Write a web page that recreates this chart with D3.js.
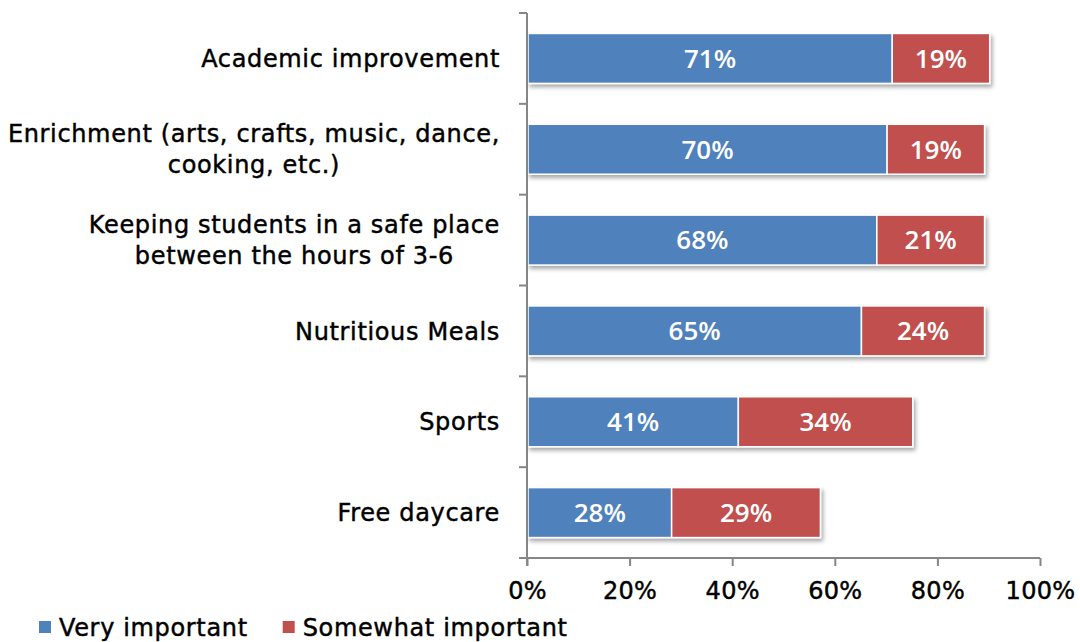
<!DOCTYPE html>
<html>
<head>
<meta charset="utf-8">
<script src="https://cdn.jsdelivr.net/npm/d3@7"></script>
<style>
  html, body { margin: 0; padding: 0; background: #fff; }
  svg { display: block; }
</style>
</head>
<body>
<svg id="chart" width="1080" height="642"></svg>
<script>
// Survey results: importance of after-school program features
const categories = [
  ["Academic improvement"],
  ["Enrichment (arts, crafts, music, dance,", "cooking, etc.)"],
  ["Keeping students in a safe place", "between the hours of 3-6"],
  ["Nutritious Meals"],
  ["Sports"],
  ["Free daycare"]
];
const veryImportant     = [71, 70, 68, 65, 41, 28];
const somewhatImportant = [19, 19, 21, 24, 34, 29];
const seriesNames  = ["Very important", "Somewhat important"];
const seriesColors = ["#4F81BD", "#C0504D"];
const xTicks = [0, 20, 40, 60, 80, 100];

const svg = d3.select("#chart");
const labelFont = "'DejaVu Sans', sans-serif";
const valueFont = "'Open Sans', sans-serif";

// shared style for the dark text (category names, ticks, legend)
function darkText(sel, size) {
  return sel.attr("font-family", labelFont)
    .attr("font-size", size)
    .attr("letter-spacing", 0.65)
    .attr("fill", "#000")
    .attr("stroke", "#000")
    .attr("stroke-width", 0.45);
}

const x = d3.scaleLinear().domain([0, 100]).range([527, 1040]);
const y = d3.scaleBand().domain(d3.range(categories.length)).range([13, 558]).paddingInner(0.45).paddingOuter(0.225);
const yEdges = d3.scaleLinear().domain([0, categories.length]).range([13, 558]);

// drop shadow for the bar segments
const defs = svg.append("defs");
const f = defs.append("filter").attr("id", "shadow")
  .attr("x", "-5%").attr("y", "-20%").attr("width", "115%").attr("height", "160%");
f.append("feDropShadow").attr("dx", 2).attr("dy", 3).attr("stdDeviation", 2)
  .attr("flood-color", "#000").attr("flood-opacity", 0.35);

const rows = categories.map((c, i) => ({
  i, label: c,
  segs: [
    { s: 0, x0: 0, x1: veryImportant[i], v: veryImportant[i] },
    { s: 1, x0: veryImportant[i], x1: veryImportant[i] + somewhatImportant[i], v: somewhatImportant[i] }
  ]
}));

// bars with value labels
const barG = svg.append("g");
rows.forEach(r => {
  const g = barG.append("g").attr("filter", "url(#shadow)");
  g.selectAll("rect").data(r.segs).join("rect")
    .attr("x", d => x(d.x0) + 1)
    .attr("y", y(r.i))
    .attr("width", d => x(d.x1) - x(d.x0))
    .attr("height", y.bandwidth())
    .attr("fill", d => seriesColors[d.s])
    .attr("stroke", "#fff")
    .attr("stroke-width", 1.5);
  barG.selectAll(null).data(r.segs).join("text")
    .attr("x", d => (x(d.x0) + x(d.x1)) / 2 + 1)
    .attr("y", y(r.i) + y.bandwidth() / 2)
    .attr("dy", "0.36em")
    .attr("text-anchor", "middle")
    .attr("fill", "#fff")
    .attr("font-family", valueFont)
    .attr("font-weight", 600)
    .attr("font-size", 26)
    .text(d => d.v + "%");
});

// axes
const axisColor = "#868686";
const yAxis = svg.append("g");
yAxis.append("line").attr("x1", 527).attr("x2", 527).attr("y1", 13).attr("y2", 566)
  .attr("stroke", axisColor).attr("stroke-width", 2);
yAxis.selectAll("line.tick").data(d3.range(categories.length + 1)).join("line")
  .attr("class", "tick")
  .attr("x1", 519).attr("x2", 527)
  .attr("y1", d => yEdges(d)).attr("y2", d => yEdges(d))
  .attr("stroke", axisColor).attr("stroke-width", 2);

const xAxis = svg.append("g").attr("transform", "translate(0,558)")
  .call(d3.axisBottom(x).tickValues(xTicks).tickSize(8).tickPadding(16).tickFormat(d => d + "%"));
xAxis.select(".domain").attr("stroke", axisColor).attr("stroke-width", 2)
  .attr("d", "M519,0H1040");
xAxis.selectAll(".tick line").attr("stroke", axisColor).attr("stroke-width", 2);
darkText(xAxis.selectAll(".tick text"), 24).attr("letter-spacing", 0.3).attr("dy", "0.71em");

// category labels; multi-line labels are centered within a block whose right edge is x=500
const catG = svg.append("g");
rows.forEach(r => {
  const cy = y(r.i) + y.bandwidth() / 2;
  const n = r.label.length;
  const lh = 31;
  const nodes = r.label.map((line, k) =>
    darkText(catG.append("text"), 24)
      .attr("x", 500)
      .attr("y", cy + (k - (n - 1) / 2) * lh)
      .attr("dy", "0.36em")
      .attr("text-anchor", n > 1 ? "middle" : "end")
      .text(line)
      .node());
  if (n > 1) {
    const w = d3.max(nodes, nd => nd.getComputedTextLength());
    nodes.forEach(nd => nd.setAttribute("x", 500 - w / 2));
  }
});

// legend
const legend = svg.append("g").attr("transform", "translate(39,627)");
let lx = 0;
seriesNames.forEach((name, s) => {
  const g = legend.append("g").attr("transform", `translate(${lx},0)`);
  g.append("rect").attr("x", 0).attr("y", -6).attr("width", 12).attr("height", 12).attr("fill", seriesColors[s]);
  const t = darkText(g.append("text"), 24).attr("x", 20).attr("y", 0).attr("dy", "0.36em").text(name);
  lx += 20 + t.node().getComputedTextLength() + 35;
});
</script>
</body>
</html>
